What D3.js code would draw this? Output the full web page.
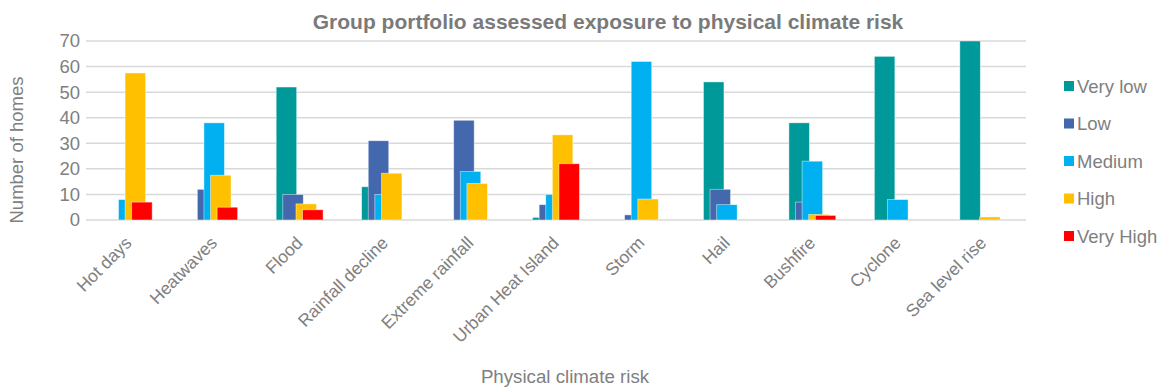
<!DOCTYPE html>
<html>
<head>
<meta charset="utf-8">
<script src="https://cdn.jsdelivr.net/npm/d3@7"></script>
<style>
  html, body { margin: 0; padding: 0; background: #fff; }
  svg { display: block; font-family: "Liberation Sans", Arial, sans-serif; }
</style>
</head>
<body>
<svg id="chart" width="1159" height="387"></svg>
<script>
const categories = ["Hot days", "Heatwaves", "Flood", "Rainfall decline", "Extreme rainfall",
  "Urban Heat Island", "Storm", "Hail", "Bushfire", "Cyclone", "Sea level rise"];
const seriesNames = ["Very low", "Low", "Medium", "High", "Very High"];
const veryLow  = [0, 0, 52, 13, 0, 1, 0, 54, 38, 64, 70];
const low      = [0, 12, 10, 31, 39, 6, 2, 12, 7, 0, 0];
const medium   = [8, 38, 0, 10, 19, 10, 62, 6, 23, 8, 0];
const high     = [57.5, 17.5, 6.3, 18.3, 14.3, 33.3, 8.2, 0, 2.2, 0, 1.2];
const veryHigh = [7, 5, 4, 0, 0, 22, 0, 0, 1.8, 0, 0];
const seriesColors = ["#009999", "#4468AE", "#00B0F0", "#FFC000", "#FF0000"];
const yTicks = [0, 10, 20, 30, 40, 50, 60, 70];
const titleText = "Group portfolio assessed exposure to physical climate risk";
const yTitle = "Number of homes";
const xTitle = "Physical climate risk";

const seriesValues = [veryLow, low, medium, high, veryHigh];

const svg = d3.select("#chart");
const plot = { left: 86, right: 1026, top: 41, bottom: 220 };

const x = d3.scaleBand().domain(categories).range([plot.left, plot.right]).paddingInner(0).paddingOuter(0);
const y = d3.scaleLinear().domain([0, 70]).range([plot.bottom, plot.top]);

// gridlines
svg.append("g").selectAll("line").data(yTicks).join("line")
  .attr("x1", plot.left).attr("x2", plot.right)
  .attr("y1", d => y(d)).attr("y2", d => y(d))
  .attr("stroke", "#D9D9D9").attr("stroke-width", 1.5);

// overlapping bars
const barW = 20.5;
const step = 6.6;
const groupW = barW + step * 4;
const sub = d3.scaleLinear().domain([0, 4]).range([0, step * 4]);

seriesValues.forEach((vals, si) => {
  svg.append("g").selectAll("rect").data(vals.map((v, i) => ({ v, c: categories[i] })))
    .join("rect")
    .attr("x", d => x(d.c) + x.bandwidth() / 2 - groupW / 2 + sub(si))
    .attr("y", d => y(d.v))
    .attr("width", barW)
    .attr("height", d => y(0) - y(d.v))
    .attr("fill", seriesColors[si])
    .attr("stroke", "#ffffff").attr("stroke-opacity", 0.55).attr("stroke-width", 0.8);
});

// y tick labels
svg.append("g").selectAll("text").data(yTicks).join("text")
  .attr("x", 80).attr("y", d => y(d)).attr("dy", "0.35em")
  .attr("text-anchor", "end").attr("font-size", 18.5).attr("fill", "#808080")
  .text(d => d);

// x labels
svg.append("g").selectAll("text").data(categories).join("text")
  .attr("transform", d => `translate(${x(d) + x.bandwidth() / 2 + 4},244) rotate(-45)`)
  .attr("text-anchor", "end").attr("font-size", 17.5).attr("fill", "#808080")
  .text(d => d);

// titles
svg.append("text").attr("x", 608).attr("y", 29).attr("text-anchor", "middle")
  .attr("font-size", 21).attr("font-weight", "bold").attr("fill", "#7A7A7A").text(titleText);
svg.append("text").attr("transform", "translate(23,150) rotate(-90)").attr("text-anchor", "middle")
  .attr("font-size", 18.5).attr("fill", "#808080").text(yTitle);
svg.append("text").attr("x", 565).attr("y", 383).attr("text-anchor", "middle")
  .attr("font-size", 18.7).attr("fill", "#808080").text(xTitle);

// legend
const lg = svg.append("g").selectAll("g").data(seriesNames).join("g")
  .attr("transform", (d, i) => `translate(1064,${86 + i * 37.5})`);
lg.append("rect").attr("x", 0).attr("y", -5).attr("width", 10).attr("height", 10)
  .attr("fill", (d, i) => seriesColors[i]);
lg.append("text").attr("x", 13).attr("y", 0).attr("dy", "0.36em")
  .attr("font-size", 18.5).attr("fill", "#808080").text(d => d);
</script>
</body>
</html>
